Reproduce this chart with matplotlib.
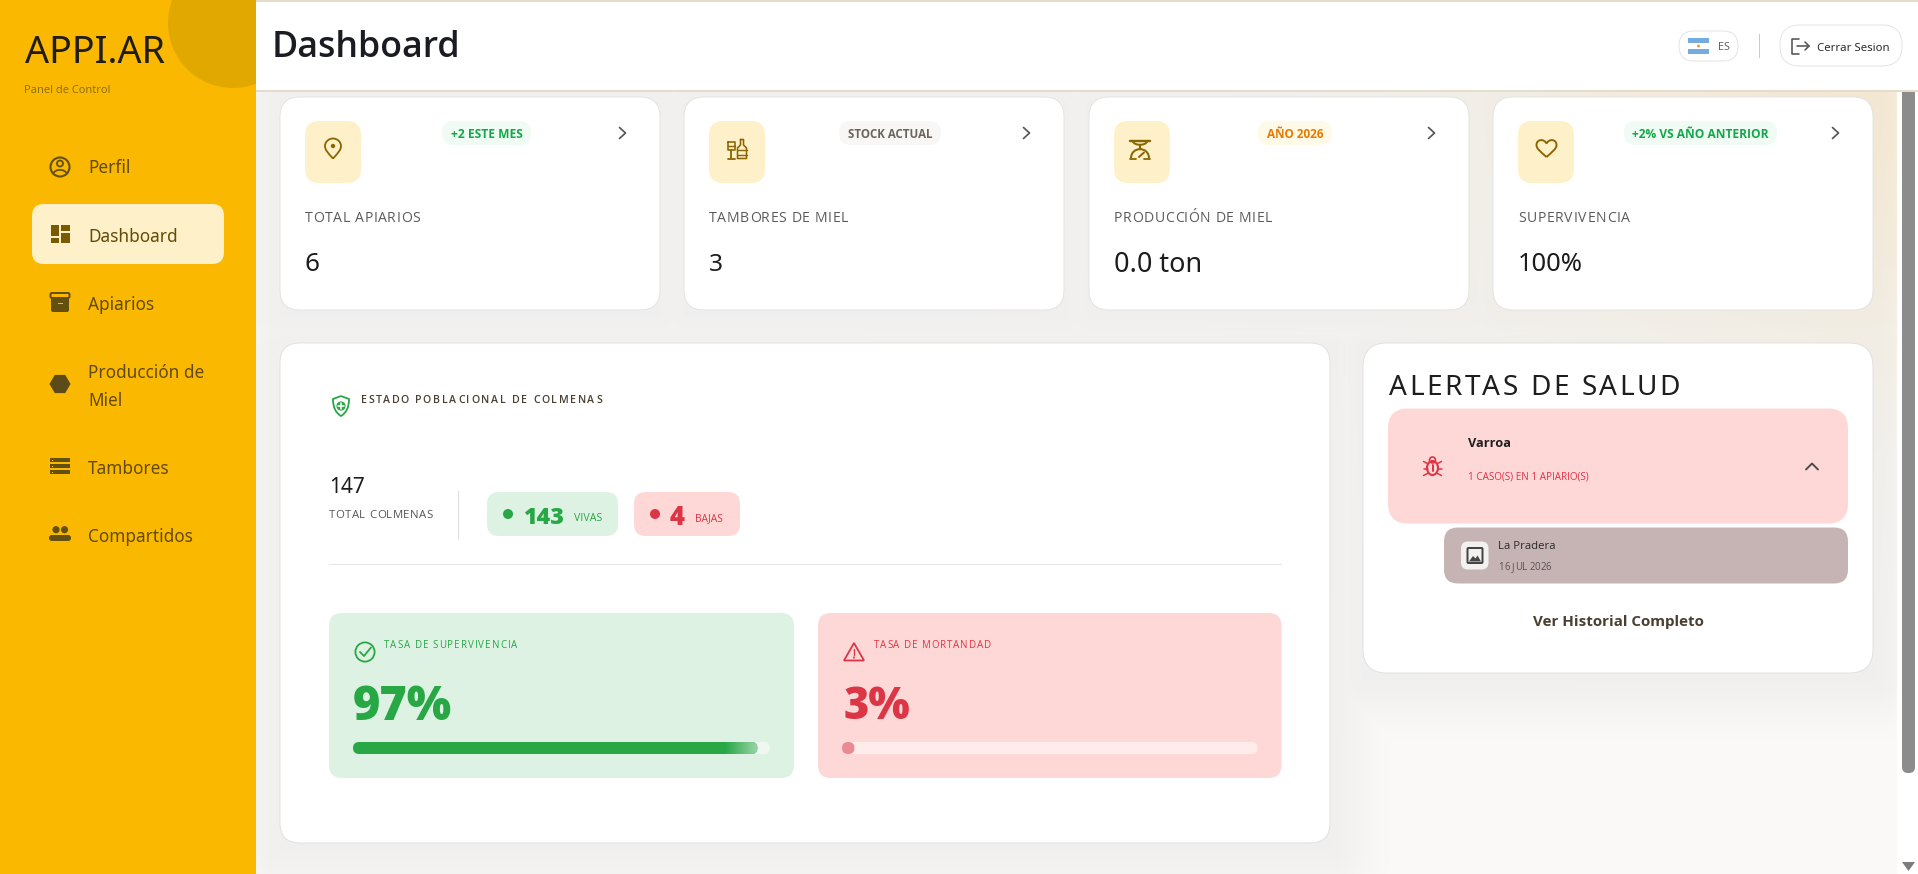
"""
APPI.AR dashboard screenshot redrawn with matplotlib, in pixel coordinates.
"""

import numpy as np
import matplotlib
matplotlib.use("Agg")
import matplotlib.pyplot as plt
from matplotlib.patches import Circle, Ellipse, FancyBboxPatch, PathPatch, Polygon, Rectangle
from matplotlib.path import Path
from matplotlib.text import Text
from matplotlib.transforms import IdentityTransform

plt.rcParams["font.family"] = ["Open Sans", "DejaVu Sans"]
NOTO = ["Noto Sans", "DejaVu Sans"]

# data
NAV_LABELS = ["Perfil", "Dashboard", "Apiarios", "Producción de\nMiel", "Tambores", "Compartidos"]
KPI_LABELS = ["TOTAL APIARIOS", "TAMBORES DE MIEL", "PRODUCCIÓN DE MIEL", "SUPERVIVENCIA"]
KPI_VALUES = ["6", "3", "0.0 ton", "100%"]
KPI_BADGES = ["+2 ESTE MES", "STOCK ACTUAL", "AÑO 2026", "+2% VS AÑO ANTERIOR"]
TOTAL_HIVES = 147
ALIVE_HIVES = 143
LOST_HIVES = 4
SURVIVAL_RATE = 97
MORTALITY_RATE = 3
ALERT_NAME = "Varroa"
ALERT_DETAIL = "1 CASO(S) EN 1 APIARIO(S)"
ALERT_PLACE = "La Pradera"
ALERT_DATE = "16 JUL 2026"

# colours
AMBER = "#fab900"
AMBER_DARK = "#e0a800"
CREAM = "#fef0c8"
NAV_TEXT = "#634a08"
ICON_BROWN = "#8a6500"
GREEN = "#28a745"
GREEN_BG = "#def2e4"
RED = "#dc3545"
RED_BG = "#fed8d6"
INK = "#1c1c1c"

W, H = 1918, 874
fig = plt.figure(figsize=(W / 100, H / 100), dpi=100)
ax = fig.add_axes([0, 0, 1, 1])
ax.set_xlim(0, W)
ax.set_ylim(H, 0)
ax.axis("off")
ax.autoscale(False)
renderer = fig.canvas.get_renderer()


class TrackedText(Text):
    """Text with CSS-like letter spacing, still one text object."""
    tracking = 0.0

    def _width(self, s):
        t = Text(0, 0, s, fontproperties=self.get_fontproperties())
        t.set_figure(self.get_figure())
        return t.get_window_extent(renderer).width

    def draw(self, rend):
        x, y = self.get_transform().transform(self.get_position())
        s = self.get_text()
        dot = self._width(".")
        for i, ch in enumerate(s):
            off = self._width(s[:i] + ".") - dot + i * self.tracking
            t = Text(x + off, y, ch, color=self.get_color(), fontproperties=self.get_fontproperties(),
                     va="baseline", ha="left", transform=IdentityTransform())
            t.set_figure(self.get_figure())
            t.draw(rend)


def rbox(x0, y0, x1, y1, r, fc, ec="none", lw=1.0, z=2):
    p = FancyBboxPatch((x0, y0), x1 - x0, y1 - y0, boxstyle=f"round,pad=0,rounding_size={r}",
                       facecolor=fc, edgecolor=ec, linewidth=lw * 0.72, zorder=z)
    ax.add_patch(p)
    return p


def label(x, yc, s, px, color=INK, weight="normal", ha="left", w=None, z=6, family=None):
    # yc is the middle of the capitals, w the width in the reference
    t = ax.text(x, yc, s, fontsize=px * 0.72, color=color, fontweight=weight, ha=ha, va="baseline", zorder=z)
    if family:
        t.set_fontfamily(family)
    if w:
        px *= w / t.get_window_extent(renderer).width
        t.set_fontsize(px * 0.72)
    t.set_y(yc + 0.357 * px)
    return t


def tracked(x, yc, s, px, w, color=INK, weight="normal", z=6, family=None):
    t = TrackedText(x, yc + 0.357 * px, s, color=color, fontsize=px * 0.72, fontweight=weight,
                    va="baseline", ha="left", transform=ax.transData, zorder=z)
    if family:
        t.set_fontfamily(family)
    t.set_figure(fig)
    natural = t._width(s)
    t.tracking = (w - natural) / (len(s) - 1)
    ax.add_artist(t)
    return t


def stroke(xs, ys, color, lw=1.5, z=6):
    ax.plot(xs, ys, color=color, lw=lw * 0.72, solid_capstyle="round", solid_joinstyle="round", zorder=z)


def curve(verts, codes, fc="none", ec="none", lw=1.5, z=6):
    ax.add_patch(PathPatch(Path(verts, codes), facecolor=fc, edgecolor=ec, linewidth=lw * 0.72, zorder=z))


def gradient_bar(x0, x1, y0, y1, c0, c1, z=5, clip=None):
    c = np.linspace(matplotlib.colors.to_rgb(c0), matplotlib.colors.to_rgb(c1), 64)[None, :, :]
    im = ax.imshow(c, extent=(x0, x1, y1, y0), aspect="auto", zorder=z, interpolation="bilinear")
    if clip is not None:
        im.set_clip_path(clip)


# page background with the warm corner and soft card shadows
MAIN_CARDS = [(280, 97, 660, 310), (684, 97, 1064, 310), (1089, 97, 1469, 310), (1493, 97, 1873, 310),
              (280, 343, 1330, 843), (1363, 343, 1873, 673)]
yy, xx = np.mgrid[92:H, 256:1897]
warm = np.exp(-((xx - 1897) / 380.0) ** 2 - ((yy - 92) / 260.0) ** 2)[..., None]
page = (1 - warm) * np.array([251, 250, 249]) + warm * np.array([252, 241, 220])
shade = np.zeros(xx.shape)
for (a, b, c, d) in MAIN_CARDS:
    dx = np.maximum(np.maximum(a - xx, xx - c), 0)
    dy = np.maximum(np.maximum(b + 6 - yy, yy - d - 6), 0)
    shade = np.maximum(shade, 0.04 * np.exp(-(dx ** 2 + dy ** 2) / 40.0 ** 2))
page = page * (1 - shade)[..., None]
ax.imshow(page / 255.0, extent=(256, 1897, H, 92), aspect="auto", zorder=0)
ax.add_patch(Rectangle((1897, 92), 21, H - 92, fc="white", ec="none", zorder=1))
ax.add_patch(FancyBboxPatch((1902, 86), 13, 687, boxstyle="round,pad=0,rounding_size=6", fc="#8c8c8c", ec="none", zorder=1))
ax.add_patch(Polygon([(1902, 862), (1915, 862), (1908.5, 871)], fc="#7c7c7c", ec="none", zorder=1))

# sidebar
ax.add_patch(Rectangle((0, 0), 256, H, fc=AMBER, ec="none", zorder=2))
blob = Circle((233, 23), 65, fc=AMBER_DARK, ec="none", zorder=3)
ax.add_patch(blob)
blob.set_clip_path(Rectangle((0, 0), 256, H, transform=ax.transData))
label(25, 50, "APPI.AR", 38, "#1f1d15", weight="medium", w=140, family=NOTO)
label(24.5, 89, "Panel de Control", 12, "#8a6a10", w=86)
rbox(32, 204, 224, 264, 12, CREAM, z=3)

nav_y = [167, 235.5, 303.5, 371.5, 468, 536]
for name, yc in zip(NAV_LABELS, nav_y):
    for k, line in enumerate(name.split("\n")):
        label(88, yc + 28 * k, line, 17.2, NAV_TEXT, weight="medium", family=NOTO)

BROWN = "#63500f"
# perfil
ax.add_patch(Circle((60, 167), 9.5, fc="none", ec=BROWN, lw=1.5, zorder=6))
ax.add_patch(Circle((60, 163.5), 3, fc="none", ec=BROWN, lw=1.3, zorder=6))
curve([(53, 174), (55, 168.5), (65, 168.5), (67, 174)], [Path.MOVETO, Path.CURVE4, Path.CURVE4, Path.CURVE4], ec=BROWN, lw=1.8)
# dashboard
for a, b, c, d in [(51, 225, 59, 236), (61, 225, 69.5, 231), (61, 233, 69.5, 243), (51, 238, 59, 243)]:
    ax.add_patch(Rectangle((a, b), c - a, d - b, fc="#7a5a00", ec="none", zorder=6))
# apiarios
rbox(50.5, 293, 69.5, 298, 1.5, AMBER, ec=BROWN, lw=2, z=6)
rbox(51, 297, 69, 312, 2, BROWN, z=6)
ax.add_patch(Rectangle((57.5, 302.5), 5, 1.8, fc=AMBER, ec="none", zorder=7))
# produccion
ang = np.deg2rad(np.arange(0, 360, 60))
ax.add_patch(Polygon(np.c_[60 + 10.5 * np.cos(ang), 384 + 10.5 * np.sin(ang)], fc="#5c4a18", ec="none", zorder=6))
# tambores
for top in [458, 464, 470]:
    ax.add_patch(Rectangle((50, top), 20, 4.4, fc=BROWN, ec="none", zorder=6))
    ax.add_patch(Rectangle((51.8, top + 1.5), 1.6, 1.5, fc=AMBER, ec="none", zorder=7))
# compartidos
for cx in [56, 64.5]:
    ax.add_patch(Circle((cx, 529.7), 3.6, fc=BROWN, ec="none", zorder=6))
rbox(49, 535, 62, 541, 2.8, BROWN, z=6)
rbox(58, 535, 71, 541, 2.8, BROWN, z=6)

# header
ax.add_patch(Rectangle((256, 0), W - 256, 92, fc="white", ec="none", zorder=3))
ax.add_patch(Rectangle((256, 0), W - 256, 2, fc="#e6dccb", ec="none", zorder=4))
ax.add_patch(Rectangle((256, 90), W - 256, 2, fc="#e6dccb", ec="none", zorder=4))
label(272, 44, "Dashboard", 39, "#1a1c22", weight="semibold", w=189)
rbox(1679, 31, 1738, 61, 15, "white", ec="#e4e4ea", z=4)
ax.add_patch(Rectangle((1688, 38), 21, 16, fc="#74acdf", ec="none", zorder=5))
ax.add_patch(Rectangle((1688, 43.3), 21, 5.4, fc="white", ec="none", zorder=6))
ax.add_patch(Circle((1698.5, 46), 1.5, fc="#e0a040", ec="none", zorder=7))
label(1723.5, 46, "ES", 12, "#6a6258", ha="center", w=12, weight="medium", family=NOTO)
ax.add_patch(Rectangle((1758.5, 34), 1, 24, fc="#d8c8b4", ec="none", zorder=4))
rbox(1780, 25, 1902, 66, 20, "white", ec="#e4e4ec", z=4)
stroke([1799, 1792, 1792, 1799], [38.5, 38.5, 53.5, 53.5], "#555555", 1.6)
stroke([1797, 1809], [46, 46], "#555555", 1.6)
stroke([1805, 1809, 1805], [42, 46, 50], "#555555", 1.6)
label(1817, 47, "Cerrar Sesion", 12.5, "#2c2c2c", weight="medium", w=72, family=NOTO)

# kpi cards
card_x = [(280, 660), (684, 1064), (1089, 1469), (1493, 1873)]
badge_x = [(442, 531), (839, 941), (1258, 1332), (1624, 1777)]
badge_bg = ["#effbf3", "#f8f7f5", "#fff9e8", "#effbf3"]
badge_fg = ["#12a84a", "#6b645c", "#e87a00", "#12a84a"]
label_w = [115, 139, 158, 112]
value_w = [15, 14, 88, 65]
for i in range(4):
    x0, x1 = card_x[i]
    rbox(x0, 97, x1, 310, 20, "white", ec="#e4e4e2", z=2)
    rbox(x0 + 25, 121, x0 + 81, 183, 14, CREAM, z=3)
    b0, b1 = badge_x[i]
    rbox(b0, 121, b1, 145, 12, badge_bg[i], z=3)
    label((b0 + b1) / 2, 133.7, KPI_BADGES[i], 12, badge_fg[i], weight="bold", ha="center", w=b1 - b0 - 17)
    cx = x1 - 37.5
    stroke([cx - 3, cx + 3, cx - 3], [127.5, 133, 138.5], "#555555", 1.7)
    tracked(x0 + 25, 217, KPI_LABELS[i], 14, label_w[i], "#5a5a5a")
    label(x0 + 25, 262, KPI_VALUES[i], 26, INK, weight="medium", w=value_w[i], family=NOTO)

# pin
curve([(333, 158.5), (328, 153), (325, 150), (325, 146), (325, 141.5), (329, 138.5), (333, 138.5),
       (337, 138.5), (341, 141.5), (341, 146), (341, 150), (338, 153), (333, 158.5)],
      [Path.MOVETO] + [Path.CURVE4] * 12, ec=ICON_BROWN, lw=1.8)
ax.add_patch(Circle((333, 146), 2.2, fc=ICON_BROWN, ec="none", zorder=6))
# glass and bottle
C = ICON_BROWN
stroke([727.5, 734.5, 734.5, 727.5, 727.5], [142, 142, 150, 150, 142], C, 1.6)
stroke([727.5, 734.5], [146, 146], C, 1.4)
stroke([731, 731], [150, 158], C, 1.8)
stroke([727.5, 734.5], [158.5, 158.5], C, 1.8)
stroke([740.5, 743.5, 743.5, 746.5, 746.5, 737.5, 737.5, 740.5, 740.5], [139.5, 139.5, 145, 148, 158.5, 158.5, 148, 145, 139.5], C, 1.6)
stroke([737.5, 746.5], [150, 150], C, 1.4)
stroke([737.5, 746.5], [154.5, 154.5], C, 1.4)
# scale
stroke([1130, 1150], [140.5, 140.5], C, 2.4)
curve([(1133, 141), (1133, 146), (1147, 146), (1147, 141)], [Path.MOVETO, Path.CURVE4, Path.CURVE4, Path.CURVE4], ec=C, lw=2)
stroke([1140, 1140], [145, 149], C, 2)
curve([(1131, 158.5), (1131, 146), (1149, 146), (1149, 158.5)], [Path.MOVETO, Path.CURVE4, Path.CURVE4, Path.CURVE4], ec=C, lw=2)
stroke([1130, 1136], [158.5, 158.5], C, 1.8)
stroke([1144, 1150], [158.5, 158.5], C, 1.8)
stroke([1139, 1144], [157, 152.5], C, 2)
# heart
curve([(1546.5, 157), (1541, 152), (1536.5, 149), (1536.5, 145), (1536.5, 139), (1544, 138.5), (1546.5, 143.5),
       (1549, 138.5), (1556.5, 139), (1556.5, 145), (1556.5, 149), (1552, 152), (1546.5, 157)],
      [Path.MOVETO] + [Path.CURVE4] * 12, ec=C, lw=1.9)

# population card
rbox(280, 343, 1330, 843, 20, "white", ec="#e2e2e0", z=2)
sx, sy = 341, 406
curve([(sx, sy - 10), (sx + 8, sy - 7), (sx + 8, sy - 7), (sx + 8, sy - 7), (sx + 8, sy + 2), (sx + 5, sy + 7), (sx, sy + 10),
       (sx - 5, sy + 7), (sx - 8, sy + 2), (sx - 8, sy - 7), (sx - 8, sy - 7), (sx - 8, sy - 7), (sx, sy - 10)],
      [Path.MOVETO] + [Path.CURVE4] * 12, ec=GREEN, lw=1.8)
ax.add_patch(Circle((sx, sy), 4.6, fc=GREEN, ec="none", zorder=6))
stroke([sx - 2.6, sx + 2.6], [sy, sy], "white", 1.6, z=7)
stroke([sx, sx], [sy - 2.6, sy + 2.6], "white", 1.6, z=7)
tracked(361, 399, "ESTADO POBLACIONAL DE COLMENAS", 10.5, 241, "#4a3f30", weight="semibold")

label(329, 486, str(TOTAL_HIVES), 24.5, INK, weight="medium", w=36, family=NOTO)
tracked(329, 514, "TOTAL COLMENAS", 11.4, 104, "#555555")
ax.add_patch(Rectangle((458, 491), 1, 49, fc="#dddddd", ec="none", zorder=4))

rbox(487, 492, 618, 536, 12, GREEN_BG, z=3)
ax.add_patch(Circle((508, 514), 5, fc=GREEN, ec="none", zorder=5))
label(523, 516, str(ALIVE_HIVES), 22, GREEN, weight="heavy", w=41)
label(574, 517, "VIVAS", 10.5, GREEN, w=28)
rbox(634, 492, 740, 536, 12, RED_BG, z=3)
ax.add_patch(Circle((655, 514), 5, fc=RED, ec="none", zorder=5))
label(670, 516, str(LOST_HIVES), 22, RED, weight="heavy", w=15)
label(695, 517, "BAJAS", 10.5, RED, w=28)
ax.add_patch(Rectangle((329, 563.5), 953, 1.2, fc="#e6e6e6", ec="none", zorder=4))

# rate panels
rbox(329, 613, 794, 778, 13, GREEN_BG, z=3)
rbox(818, 613, 1281.5, 778, 13, RED_BG, z=3)
ax.add_patch(Circle((365, 652), 9.6, fc="none", ec=GREEN, lw=1.3, zorder=6))
stroke([360, 364, 371], [652, 656, 647.5], GREEN, 1.8)
ax.add_patch(Polygon([(854, 643), (864, 660.5), (844, 660.5)], closed=True, fc="none", ec=RED, lw=1.3, zorder=6))
stroke([854, 854], [649, 654.5], RED, 1.4)
stroke([854, 854], [657.3, 657.6], RED, 1.6)
tracked(384, 645, "TASA DE SUPERVIVENCIA", 9.8, 133.5, GREEN)
tracked(873.6, 645, "TASA DE MORTANDAD", 9.8, 117.5, RED)
label(353, 703.5, f"{SURVIVAL_RATE}%", 48, GREEN, weight="heavy", w=99.5)
label(844, 703.5, f"{MORTALITY_RATE}%", 48, RED, weight="heavy", w=67)

TRACK_G = (353, 770)
TRACK_R = (842, 1257.6)
rbox(TRACK_G[0], 742, TRACK_G[1], 754, 6, "#eef8f1", z=4)
end_g = TRACK_G[0] + (TRACK_G[1] - TRACK_G[0]) * SURVIVAL_RATE / 100
fill_g = rbox(TRACK_G[0], 742, end_g, 754, 6, GREEN, z=5)
gradient_bar(end_g - 32, end_g, 742, 754, GREEN, "#98d3a8", z=5.5, clip=fill_g)
rbox(TRACK_R[0], 742, TRACK_R[1], 754, 6, "#ffecea", z=4)
end_r = TRACK_R[0] + (TRACK_R[1] - TRACK_R[0]) * MORTALITY_RATE / 100
rbox(TRACK_R[0], 742, end_r, 754, 6, "#e98a95", z=5)

# alerts card
rbox(1363, 343, 1873, 673, 24, "white", ec="#e2e2e0", z=2)
tracked(1389, 385, "ALERTAS DE SALUD", 28, 291, "#1e1e1e", weight="medium", family=NOTO)
rbox(1388, 408.5, 1848, 523.5, 20, RED_BG, z=3)
bx, by = 1432.5, 467
ax.add_patch(Ellipse((bx, by + 1), 11, 14, fc="none", ec=RED, lw=1.5, zorder=6))
ax.add_patch(Circle((bx, by - 7), 3, fc="none", ec=RED, lw=1.2, zorder=6))
for dy, tilt in [(-3.5, -2), (1.5, 0), (6.5, 2)]:
    stroke([bx - 9, bx - 5], [by + dy + tilt, by + dy], RED, 1.5)
    stroke([bx + 5, bx + 9], [by + dy, by + dy + tilt], RED, 1.5)
stroke([bx, bx], [by - 2, by + 4], RED, 2)
label(1468, 442, ALERT_NAME, 14, "#1e1e1e", weight="bold", w=43)
label(1468, 476, ALERT_DETAIL, 10.5, "#e03048", w=121)
stroke([1806, 1812, 1818], [469.5, 463.5, 469.5], "#4a4a4a", 1.9)
rbox(1444, 527.5, 1848, 583.5, 14, "#c6b4b4", z=3)
rbox(1461, 541.5, 1488.5, 569.5, 7, "#f2f1f0", z=4)
rbox(1467.5, 548, 1482.5, 563, 1, "none", ec="#444444", lw=2, z=5)
ax.add_patch(Polygon([(1469, 561.5), (1473, 556), (1475.5, 558.5), (1477.5, 555.5), (1481, 561.5)], fc="#444444", ec="none", zorder=5))
label(1498.5, 545, ALERT_PLACE, 12.5, "#2a2a2a", w=58)
tracked(1498.5, 566.5, ALERT_DATE, 9.6, 53, "#5a5252")
label(1618, 621, "Ver Historial Completo", 15, "#4a3f30", weight="bold", ha="center", w=171)

fig.savefig("out.png", dpi=100)
